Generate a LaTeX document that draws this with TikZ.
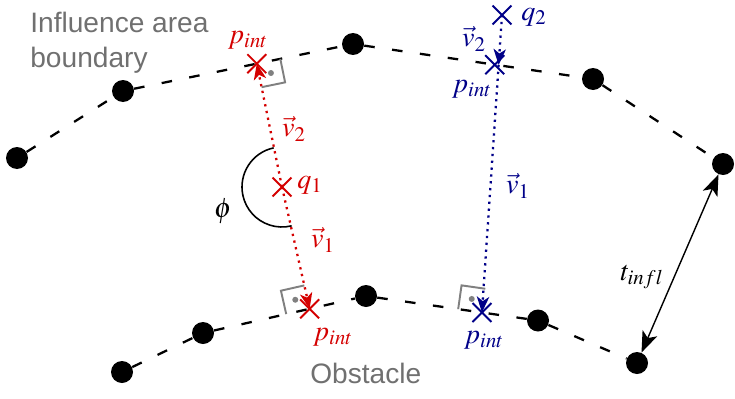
\documentclass[tikz,border=0pt]{standalone}
\usepackage{mathptmx}
\usepackage[no-math]{fontspec}
\setsansfont{Liberation Sans}
\usetikzlibrary{calc,arrows.meta,shapes.misc}

\definecolor{intred}{RGB}{212,0,0}
\definecolor{intblue}{RGB}{0,0,136}
\definecolor{areagray}{RGB}{112,112,112}

\tikzset{
  vertex/.style={circle,fill=black,inner sep=0pt,minimum size=0.44cm},
  boundary/.style={line width=1.3pt,dash pattern=on 6pt off 10pt},
  xmark/.style={cross out,draw,line width=1.1pt,inner sep=0pt,minimum size=0.34cm},
  vecline/.style={line width=1.3pt,dash pattern=on 1.3pt off 2.6pt,-{Stealth[length=9pt,width=7pt,inset=2.5pt]}},
  perpline/.style={draw=gray,line width=1.1pt},
  mathlabel/.style={font=\fontsize{16}{19}\selectfont},
  arealabel/.style={font=\sffamily\fontsize{16}{20}\selectfont,text=areagray,inner sep=0pt}
}

% right angle mark at foot point #1, one side towards #2
\newcommand{\perpmark}[2]{%
  \coordinate (pm1) at ($(#1)!0.48cm!(#2)$);
  \coordinate (pm2) at ($(#1)!0.48cm!-90:(#2)$);
  \draw[perpline] (pm1) -- ($(pm1)+(pm2)-(#1)$) -- (pm2);
  \fill[gray] ($(pm1)!0.5!(pm2)$) circle (0.06);
}

\begin{document}
\begin{tikzpicture}
  \useasboundingbox (0,0) rectangle (14.7,7.96);
  % Influence area boundary
  \node[vertex] (u1) at (0.34,4.80) {};
  \node[vertex] (u2) at (2.46,6.14) {};
  \node[vertex] (u3) at (7.06,7.08) {};
  \node[vertex] (u4) at (11.86,6.38) {};
  \node[vertex] (u5) at (14.46,4.68) {};
  \draw[boundary] (u1) -- (u2) -- (u3) -- (u4) -- (u5);
  \node[arealabel,align=left,anchor=north west] (area) at (0.6,7.73) {Influence area\\boundary};
  % Obstacle
  \node[vertex] (l1) at (2.44,0.52) {};
  \node[vertex] (l2) at (4.06,1.30) {};
  \node[vertex] (l3) at (7.32,2.04) {};
  \node[vertex] (l4) at (10.76,1.55) {};
  \node[vertex] (l5) at (12.74,0.70) {};
  \draw[boundary] (l1) -- (l2) -- (l3) -- (l4) -- (l5);
  \node[arealabel,anchor=base west] (obst) at (6.20,0.30) {Obstacle};
  % q1 inside the influence area
  \node[xmark,intred] (q1) at (5.64,4.22) {};
  \node[xmark,intred] (pu) at ($(u2)!(q1)!(u3)$) {};
  \node[xmark,intred] (pl) at ($(l2)!(q1)!(l3)$) {};
  \draw[vecline,intred] (q1.center) -- (pu.center);
  \draw[vecline,intred] (q1.center) -- (pl.center);
  \perpmark{pu}{u3}
  \perpmark{pl}{l2}
  \draw[line width=0.9pt] (q1.center) ++(102:0.8cm) arc[start angle=102,end angle=284,radius=0.8cm];
  \node[mathlabel,intred] (pul) at (4.96,7.16) {$p_{int}$};
  \node[mathlabel,intred] (v2r) at (5.88,5.38) {$\vec{v}_2$};
  \node[mathlabel,intred] (q1l) at (6.20,4.26) {$q_1$};
  \node[mathlabel,intred] (v1r) at (6.46,3.16) {$\vec{v}_1$};
  \node[mathlabel,intred] (pll) at (6.66,1.22) {$p_{int}$};
  \node[mathlabel] (phil) at (4.46,3.74) {$\phi$};
  % q2 outside the influence area
  \node[xmark,intblue] (q2) at (10.04,7.66) {};
  \node[xmark,intblue] (pt) at ($(u3)!(q2)!(u4)$) {};
  \node[xmark,intblue] (pd) at ($(l3)!0.674!(l4)$) {};
  \coordinate (ptm) at ($(q2)!(pt)!(pd)$);
  \draw[vecline,intblue] (q2.center) -- (ptm);
  \draw[vecline,intblue] (ptm) -- (pd.center);
  \perpmark{pd}{l3}
  \node[mathlabel,intblue] (q2l) at (10.68,7.62) {$q_2$};
  \node[mathlabel,intblue] (v2b) at (9.48,7.18) {$\vec{v}_2$};
  \node[mathlabel,intblue] (ptl) at (9.44,6.18) {$p_{int}$};
  \node[mathlabel,intblue] (v1b) at (10.36,4.24) {$\vec{v}_1$};
  \node[mathlabel,intblue] (pdl) at (9.68,1.16) {$p_{int}$};
  % thickness of the influence area
  \draw[{Stealth[length=12pt,width=9pt,inset=3pt]}-{Stealth[length=12pt,width=9pt,inset=3pt]},line width=0.8pt] (l5) -- (u5);
  \node[mathlabel] (tl) at (12.84,2.42) {$t_{infl}$};
\end{tikzpicture}
\end{document}
